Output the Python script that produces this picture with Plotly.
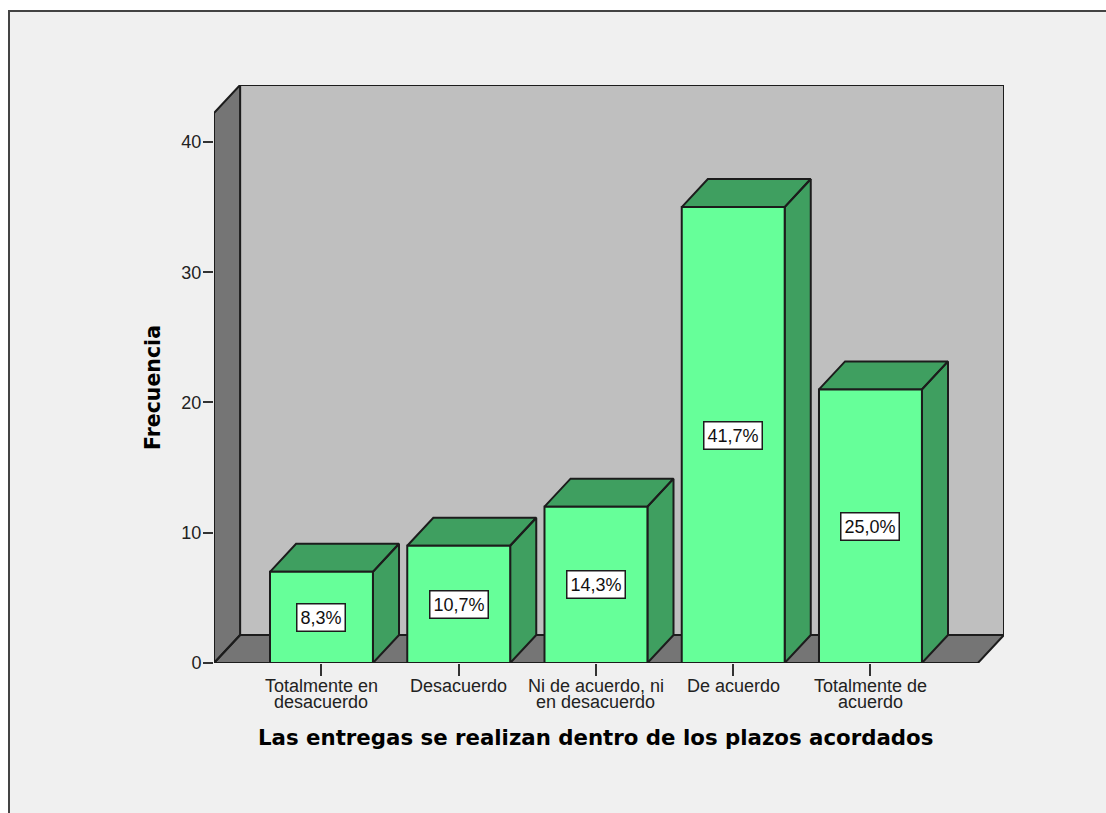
import plotly.graph_objects as go

categories = [["Totalmente en", "desacuerdo"], ["Desacuerdo"], ["Ni de acuerdo, ni", "en desacuerdo"],
              ["De acuerdo"], ["Totalmente de", "acuerdo"]]
frequencies = [7, 9, 12, 35, 21]
percent_labels = ["8,3%", "10,7%", "14,3%", "41,7%", "25,0%"]
y_ticks = [0, 10, 20, 30, 40]

WIDTH, HEIGHT = 1106, 813
MARGIN = dict(l=214, r=102, t=85, b=150, pad=0)
FONT = "Liberation Sans"
EDGE = "#1c1c1c"

# depth of the fake 3D box, in axis units
DX, DY = 0.19, 2.15
BAR_W = 0.75
X_MIN, X_FRONT = -0.783, 4.783
Y_TOP = 44.37


def paper_x(px):
    """Pixel column to plotly paper coordinate (paper is the plot area)."""
    return (px - MARGIN["l"]) / (WIDTH - MARGIN["l"] - MARGIN["r"])


def paper_y(px):
    """Pixel row to plotly paper coordinate."""
    return 1 - (px - MARGIN["t"]) / (HEIGHT - MARGIN["t"] - MARGIN["b"])


def polygons_trace(polys, colour):
    """One filled trace out of several closed polygons."""
    xs, ys = [], []
    for poly in polys:
        xs += [p[0] for p in poly] + [poly[0][0], None]
        ys += [p[1] for p in poly] + [poly[0][1], None]
    return go.Scatter(x=xs, y=ys, mode="lines", fill="toself", fillcolor=colour,
                      line=dict(color=EDGE, width=2), hoverinfo="skip",
                      showlegend=False, cliponaxis=False, zorder=1)


fig = go.Figure()

# walls and floor
x_back, x_right = X_MIN + DX, X_FRONT + DX
fig.add_trace(polygons_trace([[(x_back, DY), (x_right, DY), (x_right, Y_TOP), (x_back, Y_TOP)]], "#bfbfbf"))
fig.add_trace(polygons_trace([[(X_MIN, 0), (x_back, DY), (x_back, Y_TOP), (X_MIN, Y_TOP - DY)],
                              [(X_MIN, 0), (X_FRONT, 0), (x_right, DY), (x_back, DY)]], "#757575"))

positions = list(range(len(frequencies)))

# top and side of the bars
tops, sides = [], []
for pos, val in zip(positions, frequencies):
    left, right = pos - BAR_W / 2, pos + BAR_W / 2
    tops.append([(left, val), (left + DX, val + DY), (right + DX, val + DY), (right, val)])
    sides.append([(right, 0), (right + DX, DY), (right + DX, val + DY), (right, val)])
fig.add_trace(polygons_trace(tops + sides, "#3f9f60"))

# front of the bars
fig.add_trace(go.Bar(x=positions, y=frequencies, width=BAR_W, showlegend=False,
                     marker=dict(color="#66ff99", line=dict(color=EDGE, width=2)),
                     cliponaxis=False, zorder=2))

annotations = []
for pos, val, label in zip(positions, frequencies, percent_labels):
    annotations.append(dict(x=pos, y=val / 2, text=label, showarrow=False, bgcolor="white",
                            bordercolor=EDGE, borderwidth=1.5, borderpad=3,
                            font=dict(family=FONT, size=18, color="#111111")))

# tick labels are placed by hand, plotly's line height is too loose for them
for pos, lines in zip(positions, categories):
    for i, line in enumerate(lines):
        annotations.append(dict(x=pos, y=0, yshift=-23 - 15.5 * i, text=line, showarrow=False,
                                font=dict(family=FONT, size=18, color="#222222")))

annotations.append(dict(x=2, y=0, yshift=-74, text="<b>Las entregas se realizan dentro de los plazos acordados</b>",
                        showarrow=False, font=dict(family="DejaVu Sans", size=21.3, color="black")))
annotations.append(dict(x=paper_x(153), xref="paper", xanchor="center", y=(Y_TOP - DY) / 2,
                        text="<b>Frecuencia</b>", textangle=-90,
                        showarrow=False, font=dict(family="DejaVu Sans", size=20.5, color="black")))

fig.update_layout(
    width=WIDTH, height=HEIGHT,
    margin=MARGIN,
    paper_bgcolor="white",
    plot_bgcolor="rgba(0,0,0,0)",
    showlegend=False,
    annotations=annotations,
    shapes=[dict(type="rect", xref="paper", yref="paper", layer="below",
                 x0=paper_x(9), x1=paper_x(WIDTH + 10), y0=paper_y(HEIGHT + 10), y1=paper_y(11),
                 fillcolor="#f0f0f0", line=dict(color="#444444", width=2))],
    xaxis=dict(range=[X_MIN, x_right], tickvals=positions, showticklabels=False, ticks="outside",
               ticklen=12, tickwidth=2, tickcolor="#333333", showgrid=False, zeroline=False, showline=False),
    yaxis=dict(range=[0, Y_TOP], tickvals=y_ticks, ticks="outside", ticklen=10, tickwidth=2,
               tickcolor="#333333", showgrid=False, zeroline=False, showline=False, ticklabelstandoff=-2,
               tickfont=dict(family=FONT, size=18, color="#222222")),
)

# drop the default page margin so the figure fills the window
fig.write_html("out.html", config=dict(displayModeBar=False),
               post_script="document.body.style.margin='0';document.body.style.overflow='hidden';")
